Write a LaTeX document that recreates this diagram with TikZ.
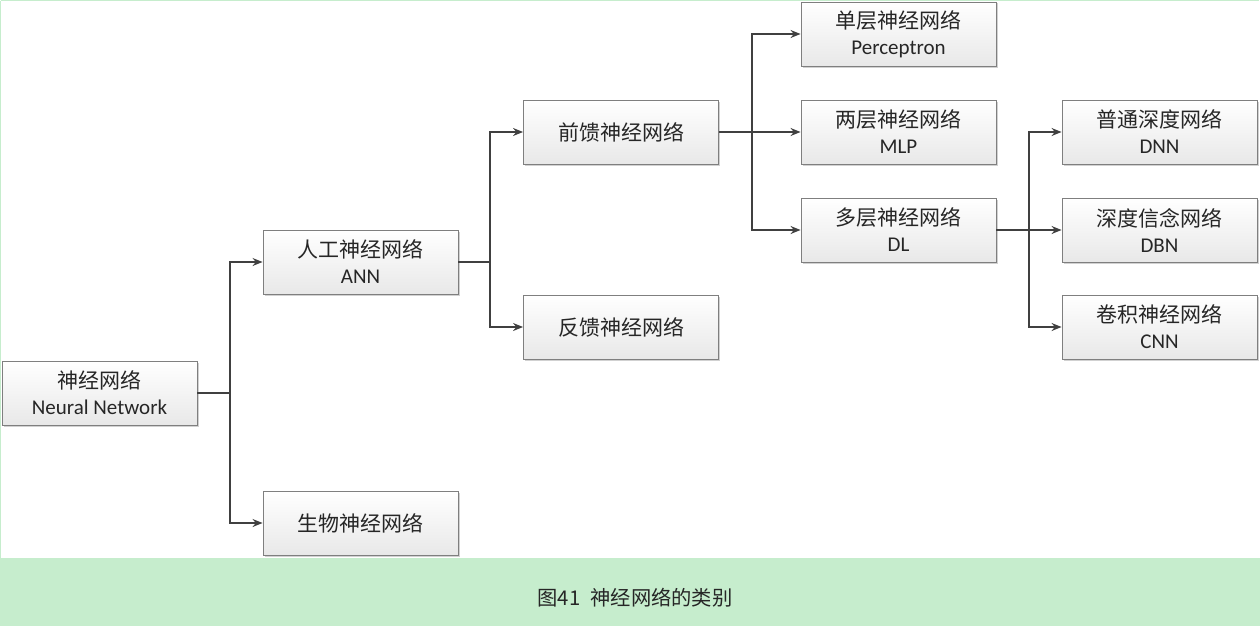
\documentclass[tikz,border=0pt]{standalone}
\usepackage{fontspec}
\setmainfont{Carlito}
\newfontfamily\cjk{Noto Sans CJK SC}
\usetikzlibrary{arrows.meta,shadows}
\definecolor{capgreen}{HTML}{C6EDCD}
\definecolor{boxline}{HTML}{7F7F7F}
\definecolor{conn}{HTML}{404040}
\definecolor{txt}{HTML}{262626}
\tikzset{
  nbox/.style={draw=boxline, line width=0.9pt, top color=white, bottom color=black!9,
    minimum width=195pt, minimum height=64pt, inner sep=0pt, align=center,
    text=txt, font=\fontsize{21}{26}\selectfont,
    drop shadow={shadow xshift=1.5pt, shadow yshift=-1.5pt, fill=black, opacity=0.18}},
  conline/.style={draw=conn, line width=1.3pt},
  arr/.style={conline, -{Stealth[length=10pt,width=8pt]}},
}
\begin{document}
\begin{tikzpicture}[x=1pt,y=-1pt]
\useasboundingbox (0,0) rectangle (1260,626);
\fill[white] (0,0) rectangle (1260,626);
\fill[capgreen] (0,558) rectangle (1260,626);
\draw[capgreen, line width=1.2pt] (0.6,0.6) -- (1259.4,0.6);
\draw[capgreen, line width=1.2pt] (0.6,0.6) -- (0.6,558);
\node[text=txt, font=\cjk\fontsize{20.3}{22}\selectfont] (cap) at (635,598) {图41\hspace{0.5em}神经网络的类别};

\node[nbox] (nn) at (99.5,393) {{\cjk 神经网络}\\Neural Network};
\node[nbox] (ann) at (360.5,262) {{\cjk 人工神经网络}\\ANN};
\node[nbox] (bio) at (360.5,523) {\cjk 生物神经网络};
\node[nbox] (ff) at (621,132) {\cjk 前馈神经网络};
\node[nbox] (fb) at (621,327) {\cjk 反馈神经网络};
\node[nbox] (sl) at (898.5,34) {{\cjk 单层神经网络}\\Perceptron};
\node[nbox] (tl) at (898.5,132) {{\cjk 两层神经网络}\\MLP};
\node[nbox] (ml) at (898.5,230) {{\cjk 多层神经网络}\\DL};
\node[nbox] (dnn) at (1159.5,132) {{\cjk 普通深度网络}\\DNN};
\node[nbox] (dbn) at (1159.5,230) {{\cjk 深度信念网络}\\DBN};
\node[nbox] (cnn) at (1159.5,327) {{\cjk 卷积神经网络}\\CNN};

\coordinate (j1) at (230,393);
\coordinate (j2) at (490,262);
\coordinate (j3) at (752,132);
\coordinate (j4) at (1029,230);

\draw[conline] (nn.east) -- (j1);
\draw[arr] (j1) |- (ann.west);
\draw[arr] (j1) |- (bio.west);
\draw[conline] (ann.east) -- (j2);
\draw[arr] (j2) |- (ff.west);
\draw[arr] (j2) |- (fb.west);
\draw[conline] (ff.east) -- (j3);
\draw[arr] (j3) |- (sl.west);
\draw[arr] (j3) -- (tl.west);
\draw[arr] (j3) |- (ml.west);
\draw[conline] (ml.east) -- (j4);
\draw[arr] (j4) |- (dnn.west);
\draw[arr] (j4) -- (dbn.west);
\draw[arr] (j4) |- (cnn.west);
\end{tikzpicture}
\end{document}
